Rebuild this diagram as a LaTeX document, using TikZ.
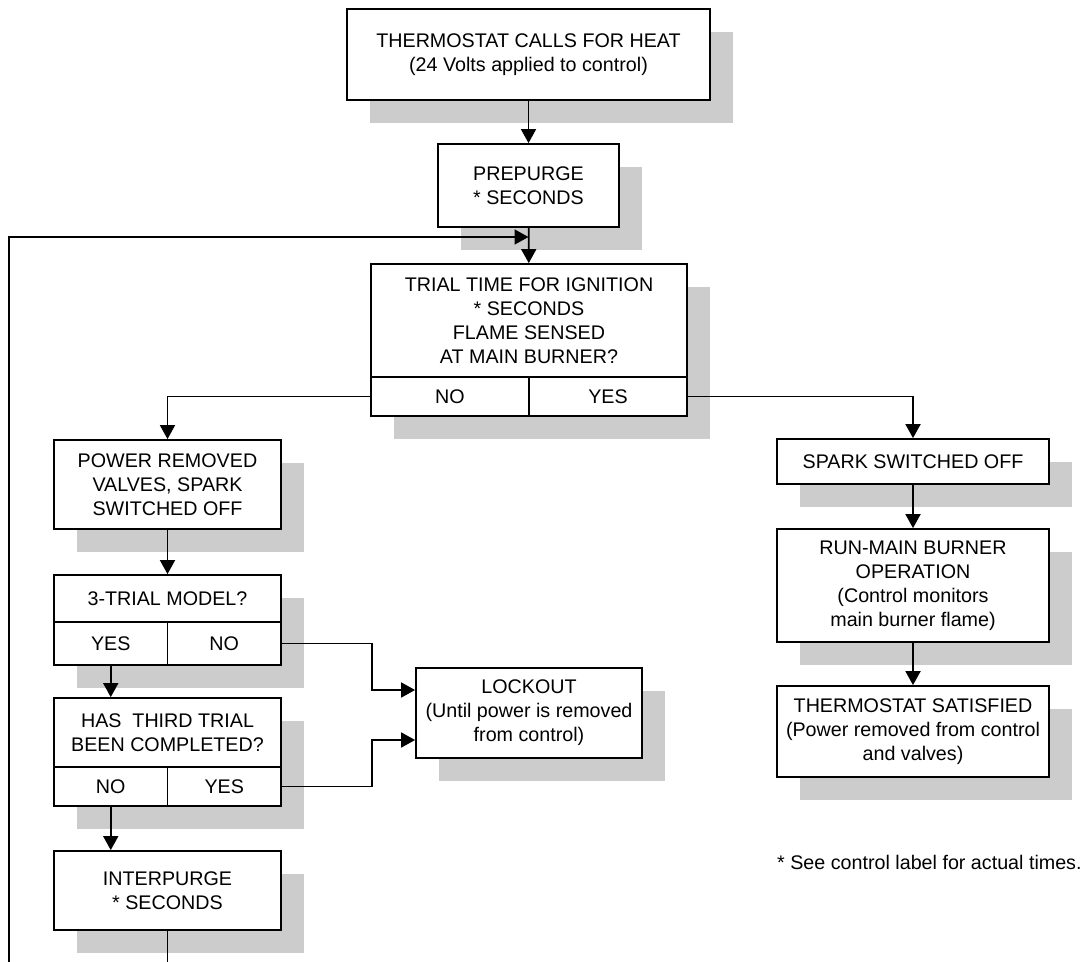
\documentclass[tikz,border=0pt]{standalone}
\usepackage{fontspec}
\setmainfont{Liberation Sans}
\usetikzlibrary{arrows.meta,shadows}

\begin{document}
\begin{tikzpicture}[x=1pt,y=-1pt,
		every node/.style={font=\fontsize{19.7}{24}\selectfont,inner sep=0pt,align=center},
		box/.style={rectangle,draw,fill=white,line width=1.8pt,
			drop shadow={shadow xshift=23pt,shadow yshift=-23pt,opacity=1,fill=black!20}},
		arr/.style={line width=1.8pt,-{Triangle[length=14pt,width=15pt]}},
		link/.style={line width=1.8pt}]
		\clip (0,0) rectangle (1089,961);

		\node[box,minimum width=363pt,minimum height=91pt] (therm) at (528.5,54.5) {THERMOSTAT CALLS FOR HEAT\\(24 Volts applied to control)};
		\node[box,minimum width=181pt,minimum height=83pt] (pre) at (528.5,185.5) {PREPURGE\\* SECONDS};

		\node[box,minimum width=316pt,minimum height=113pt] (trial) at (529,320.5) {TRIAL TIME FOR IGNITION\\* SECONDS\\FLAME SENSED\\AT MAIN BURNER?};
		\node[box,minimum width=158pt,minimum height=39pt] (trialno) at (450,396.5) {NO};
		\node[box,minimum width=158pt,minimum height=39pt] (trialyes) at (608,396.5) {YES};

		\node[box,minimum width=227pt,minimum height=89pt] (power) at (167.5,484.5) {POWER REMOVED\\VALVES, SPARK\\SWITCHED OFF};

		\node[box,minimum width=227pt,minimum height=47pt] (model) at (167.5,598.5) {3-TRIAL MODEL?};
		\node[box,minimum width=113.5pt,minimum height=43pt] (modelyes) at (110.75,643.5) {YES};
		\node[box,minimum width=113.5pt,minimum height=43pt] (modelno) at (224.25,643.5) {NO};

		\node[box,minimum width=227pt,minimum height=69pt] (third) at (167.5,732.5) {HAS~ THIRD TRIAL\\BEEN COMPLETED?};
		\node[box,minimum width=113.5pt,minimum height=39pt] (thirdno) at (110.75,786.5) {NO};
		\node[box,minimum width=113.5pt,minimum height=39pt] (thirdyes) at (224.25,786.5) {YES};

		\node[box,minimum width=227pt,minimum height=79pt] (inter) at (167.5,890.5) {INTERPURGE\\* SECONDS};

		\node[box,minimum width=226pt,minimum height=90pt] (lock) at (529,713) {LOCKOUT\\(Until power is removed\\from control)};

		\node[box,minimum width=272pt,minimum height=45pt] (spark) at (913,461.5) {SPARK SWITCHED OFF};
		\node[box,minimum width=272pt,minimum height=113pt] (run) at (913,585.5) {RUN-MAIN BURNER\\OPERATION\\(Control monitors\\main burner flame)};
		\node[box,minimum width=272pt,minimum height=91pt] (sat) at (913,731.5) {THERMOSTAT SATISFIED\\(Power removed from control\\and valves)};

		\node[anchor=west] (note) at (777,862) {* See control label for actual times.};

		\coordinate (merge) at (528.5,237);
		\coordinate (corner) at (9,237);

		% main line
		\draw[arr] (therm) -- (pre);
		\draw[arr] (pre) -- (trial);
		\draw[arr] (trialno.west) -| (power.north);
		\draw[arr] (trialyes.east) -| (spark.north);
		\draw[arr] (power) -- (model);
		\draw[arr] (modelyes.south) -- (modelyes.south |- third.north);
		\draw[arr] (modelno.east) -- ++(90,0) |- ([yshift=23pt]lock.west);
		\draw[arr] (thirdyes.east) -- ++(90,0) |- ([yshift=-27pt]lock.west);
		\draw[arr] (thirdno.south) -- (thirdno.south |- inter.north);
		\draw[arr] (spark) -- (run);
		\draw[arr] (run) -- (sat);

		% back to ignition trial
		\draw[arr] (inter.south) -- ++(0,60) -| (corner) -- (merge);
	\end{tikzpicture}
\end{document}
